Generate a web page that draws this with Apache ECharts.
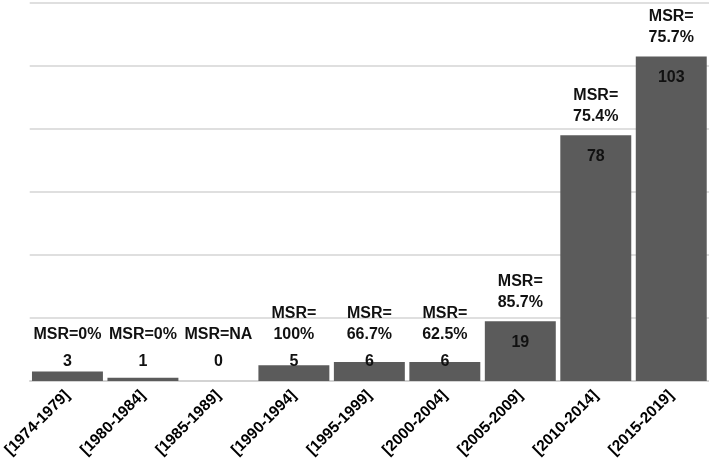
<!DOCTYPE html>
<html>
<head>
<meta charset="utf-8">
<script src="https://cdn.jsdelivr.net/npm/echarts@6/dist/echarts.min.js"></script>
<style>html,body{margin:0;padding:0;background:#fff}#c{width:709px;height:466px}</style>
</head>
<body>
<div id="c"></div>
<script>
const categories = ['[1974-1979]','[1980-1984]','[1985-1989]','[1990-1994]','[1995-1999]','[2000-2004]','[2005-2009]','[2010-2014]','[2015-2019]'];
const counts = [3, 1, 0, 5, 6, 6, 19, 78, 103];
const msrLabels = ['MSR=0%','MSR=0%','MSR=NA','MSR=\n100%','MSR=\n66.7%','MSR=\n62.5%','MSR=\n85.7%','MSR=\n75.4%','MSR=\n75.7%'];
const yTicks = [0, 20, 40, 60, 80, 100, 120];

const FONT = 'Liberation Sans, Arial, sans-serif';
const SMALL = 10;

const mainData = counts.map(v => ({
  value: v,
  label: v < SMALL
    ? { position: 'insideBottom', distance: 11 }
    : { position: 'insideTop', distance: 13 }
}));
const msrData = counts.map((v, i) => ({
  value: v,
  label: v < SMALL
    ? { position: 'insideBottom', distance: 36, formatter: msrLabels[i] }
    : { position: 'top', distance: 8, formatter: msrLabels[i] }
}));

const chart = echarts.init(document.getElementById('c'), null, {renderer: 'canvas'});
chart.setOption({
  animation: false,
  backgroundColor: '#ffffff',
  grid: { left: 29, right: 0, top: 3, bottom: 85 },
  xAxis: {
    type: 'category',
    data: categories,
    axisLine: { show: true, lineStyle: { color: '#d0d0d0', width: 1.5 } },
    axisTick: { show: false },
    axisLabel: {
      rotate: 45, margin: 12, interval: 0,
      fontFamily: FONT, fontWeight: 'bold', fontSize: 15.5, color: '#000'
    }
  },
  yAxis: {
    type: 'value',
    min: yTicks[0], max: yTicks[yTicks.length - 1], interval: yTicks[1] - yTicks[0],
    axisLine: { show: false },
    axisTick: { show: false },
    axisLabel: { show: false },
    splitLine: { show: true, lineStyle: { color: '#d4d4d4', width: 1.5 } }
  },
  series: [
    {
      type: 'bar',
      data: mainData,
      barCategoryGap: '6%',
      itemStyle: { color: '#5b5b5b' },
      label: {
        show: true,
        fontFamily: FONT, fontWeight: 'bold', fontSize: 16, color: '#111',
        formatter: '{c}'
      },
      z: 2
    },
    {
      type: 'bar',
      data: msrData,
      barGap: '-100%',
      barCategoryGap: '6%',
      silent: true,
      itemStyle: { color: 'rgba(0,0,0,0)' },
      label: {
        show: true,
        fontFamily: FONT, fontWeight: 'bold', fontSize: 16, color: '#111',
        lineHeight: 21
      },
      z: 3
    }
  ]
});
</script>
</body>
</html>
